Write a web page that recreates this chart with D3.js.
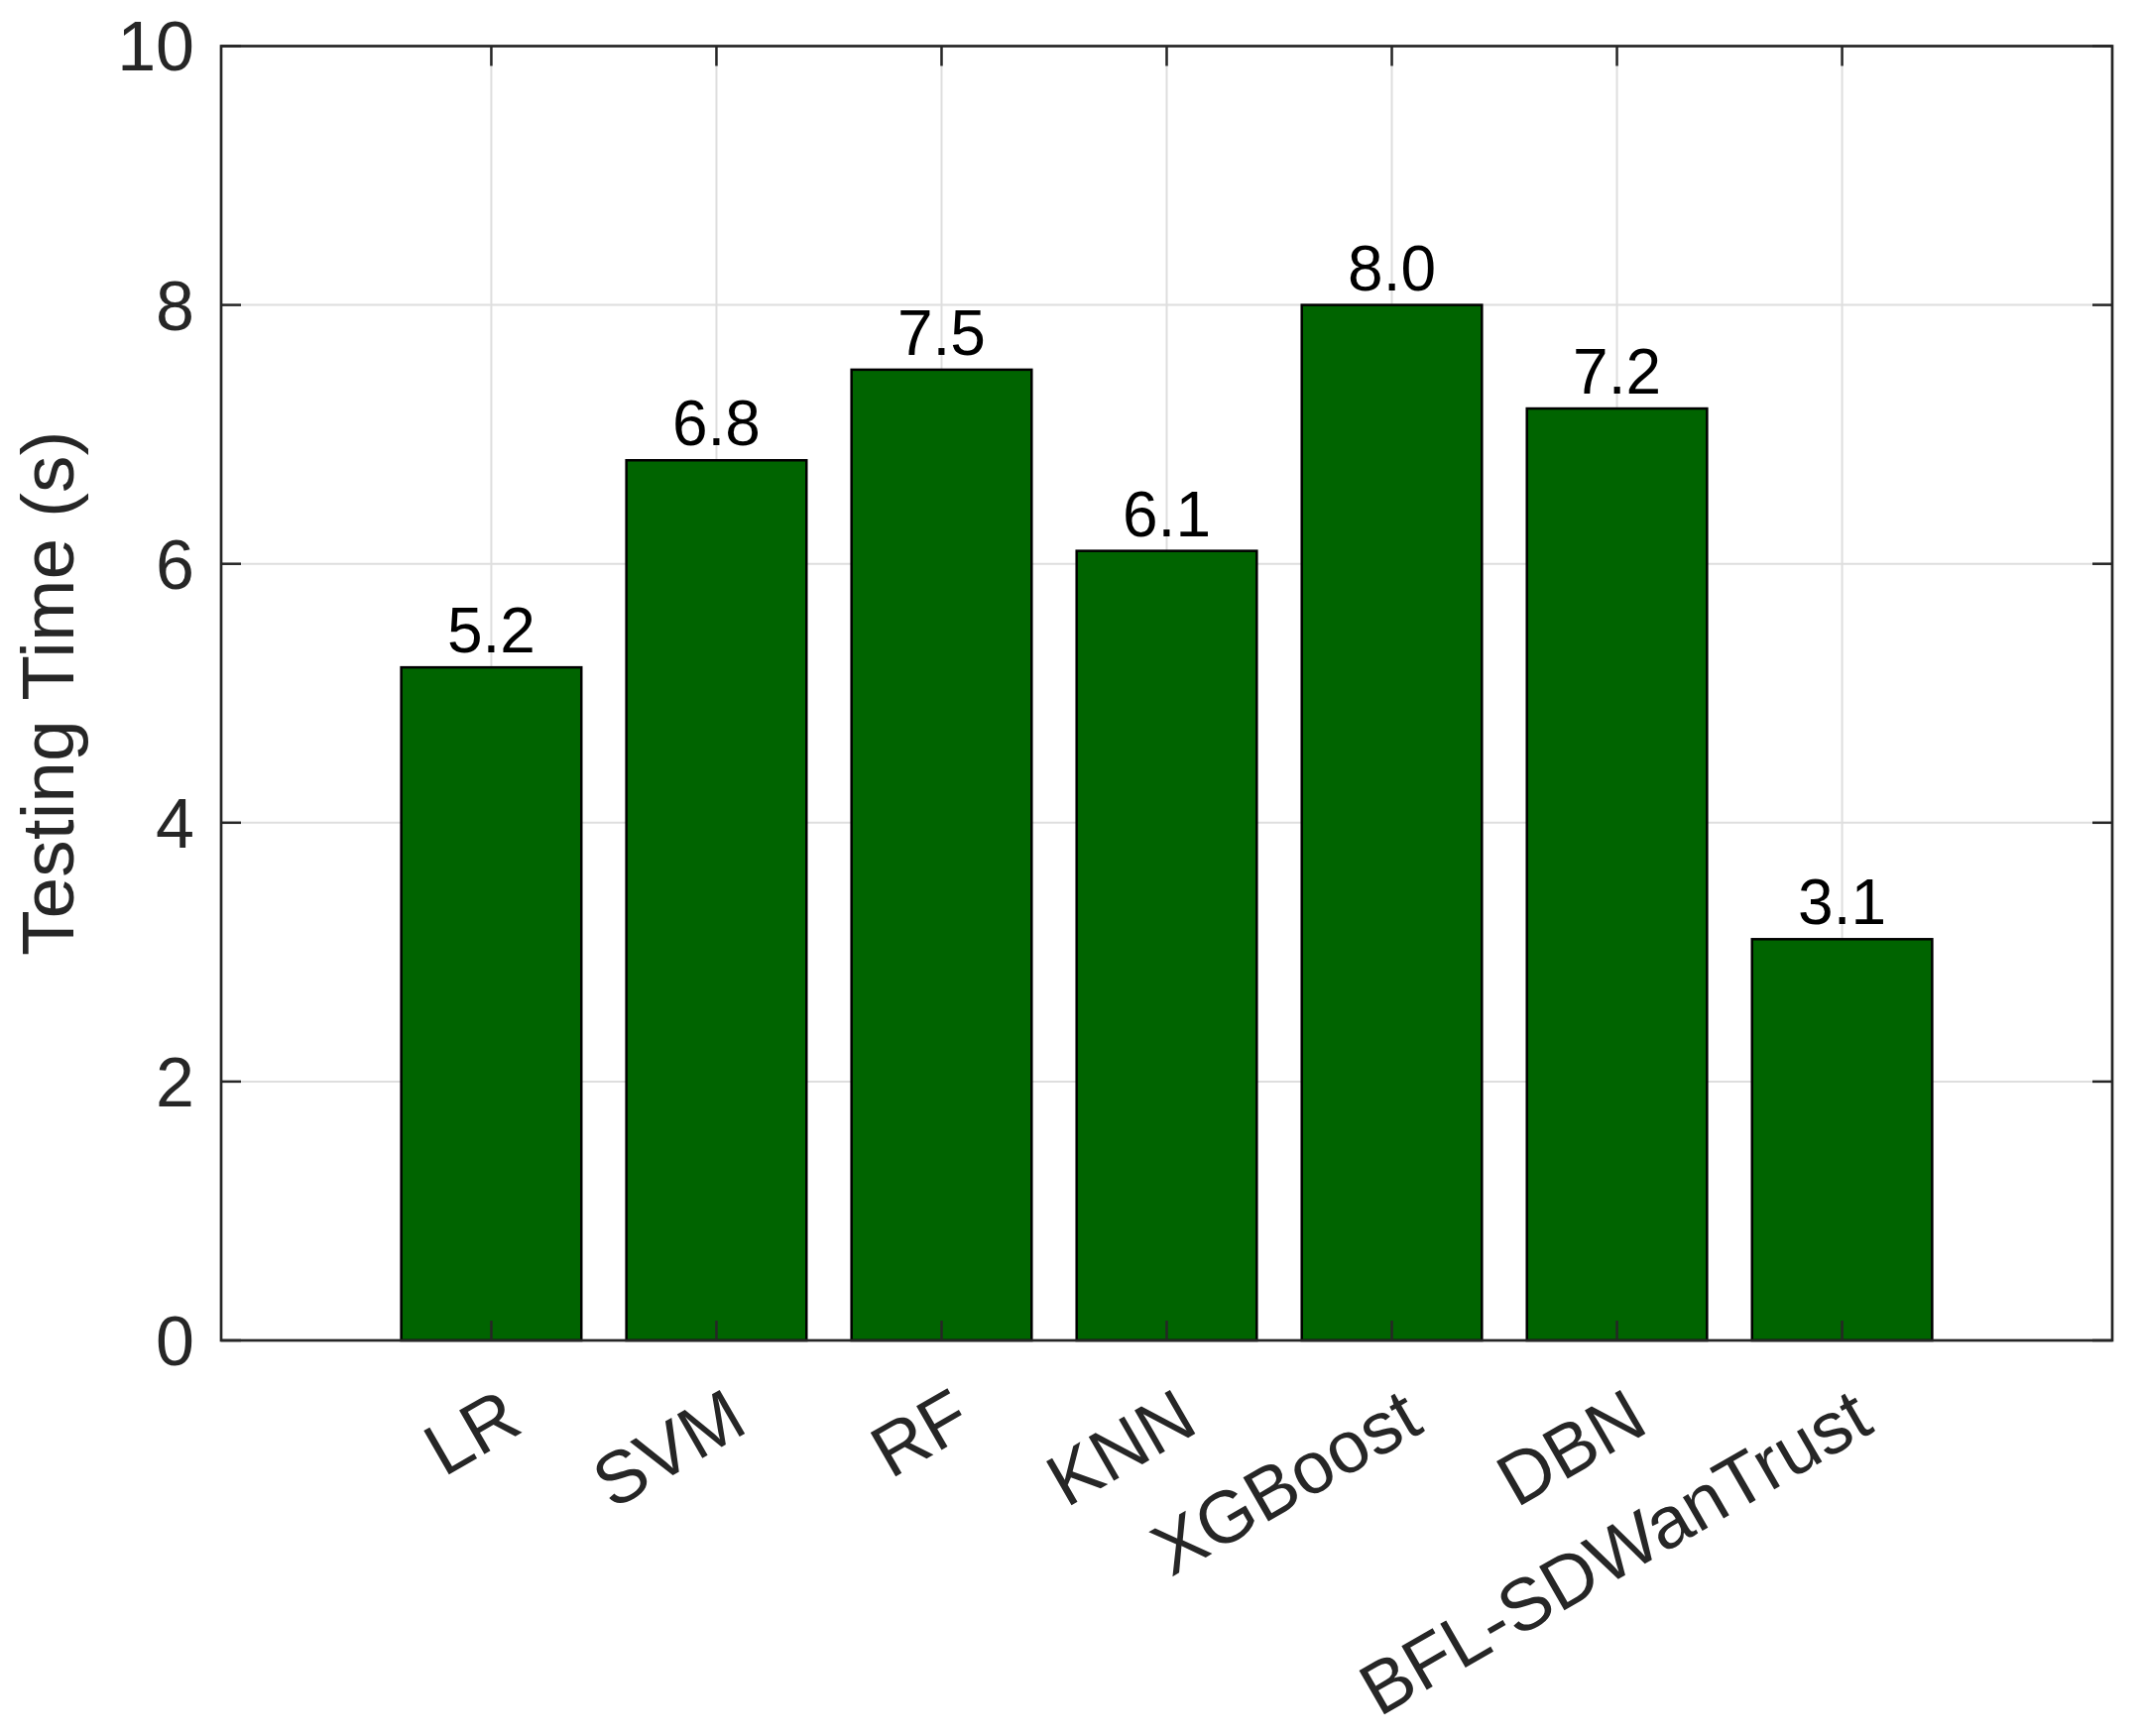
<!DOCTYPE html>
<html>
<head>
<meta charset="utf-8">
<script src="https://cdn.jsdelivr.net/npm/d3@7"></script>
<style>
  html, body { margin: 0; padding: 0; background: #ffffff; }
  svg { display: block; }
  text { font-family: "Liberation Sans", Arial, Helvetica, sans-serif; }
</style>
</head>
<body>
<script>
const categories = ["LR", "SVM", "RF", "KNN", "XGBoost", "DBN", "BFL-SDWanTrust"];
const values = [5.2, 6.8, 7.5, 6.1, 8.0, 7.2, 3.1];
const valueLabels = ["5.2", "6.8", "7.5", "6.1", "8.0", "7.2", "3.1"];
const yTicks = [0, 2, 4, 6, 8, 10];
const yLabel = "Testing Time (s)";

const W = 2161, H = 1751;
const plot = { left: 223, right: 2130, top: 46.5, bottom: 1352 };

const svg = d3.select("body").append("svg")
  .attr("width", W).attr("height", H);

const x = d3.scaleBand()
  .domain(categories)
  .range([plot.left, plot.right])
  .paddingInner(0.2)
  .paddingOuter(0.8);

const y = d3.scaleLinear()
  .domain([0, 10])
  .range([plot.bottom, plot.top]);

const axisColor = "#262626";
const gridColor = "#dedede";
const tickLen = 20;

// grid
const grid = svg.append("g");
grid.selectAll("line.h").data(yTicks).join("line")
  .attr("x1", plot.left).attr("x2", plot.right)
  .attr("y1", d => y(d)).attr("y2", d => y(d))
  .attr("stroke", gridColor).attr("stroke-width", 2);
grid.selectAll("line.v").data(categories).join("line")
  .attr("x1", d => x(d) + x.bandwidth() / 2).attr("x2", d => x(d) + x.bandwidth() / 2)
  .attr("y1", plot.top).attr("y2", plot.bottom)
  .attr("stroke", gridColor).attr("stroke-width", 2);

// bars
svg.append("g").selectAll("rect").data(categories).join("rect")
  .attr("x", d => x(d))
  .attr("width", x.bandwidth())
  .attr("y", (d, i) => y(values[i]))
  .attr("height", (d, i) => y(0) - y(values[i]))
  .attr("fill", "#006400")
  .attr("stroke", "#000000")
  .attr("stroke-width", 2.5);

// ticks (inside, mirrored)
const ticks = svg.append("g").attr("stroke", axisColor).attr("stroke-width", 2.5);
yTicks.forEach(t => {
  ticks.append("line").attr("x1", plot.left).attr("x2", plot.left + tickLen)
    .attr("y1", y(t)).attr("y2", y(t));
  ticks.append("line").attr("x1", plot.right).attr("x2", plot.right - tickLen)
    .attr("y1", y(t)).attr("y2", y(t));
});
categories.forEach(c => {
  const cx = x(c) + x.bandwidth() / 2;
  ticks.append("line").attr("x1", cx).attr("x2", cx)
    .attr("y1", plot.bottom).attr("y2", plot.bottom - tickLen);
  ticks.append("line").attr("x1", cx).attr("x2", cx)
    .attr("y1", plot.top).attr("y2", plot.top + tickLen);
});

// box
svg.append("rect")
  .attr("x", plot.left).attr("y", plot.top)
  .attr("width", plot.right - plot.left).attr("height", plot.bottom - plot.top)
  .attr("fill", "none").attr("stroke", axisColor).attr("stroke-width", 2.7);

// y tick labels
svg.append("g").selectAll("text").data(yTicks).join("text")
  .attr("x", plot.left - 27)
  .attr("y", d => y(d))
  .attr("dy", "0.357em")
  .attr("text-anchor", "end")
  .attr("font-size", 70)
  .attr("fill", axisColor)
  .text(d => d);

// x tick labels (rotated)
svg.append("g").selectAll("text").data(categories).join("text")
  .attr("transform", d => `translate(${x(d) + x.bandwidth() / 2 + 34},${plot.bottom + 91}) rotate(-30)`)
  .attr("text-anchor", "end")
  .attr("font-size", 74)
  .attr("fill", axisColor)
  .text(d => d);

// value labels
svg.append("g").selectAll("text").data(categories).join("text")
  .attr("x", d => x(d) + x.bandwidth() / 2)
  .attr("y", (d, i) => y(values[i]) - 15)
  .attr("text-anchor", "middle")
  .attr("font-size", 64)
  .attr("fill", "#000000")
  .text((d, i) => valueLabels[i]);

// y axis label
svg.append("text")
  .attr("transform", `translate(74,${(plot.top + plot.bottom) / 2}) rotate(-90)`)
  .attr("text-anchor", "middle")
  .attr("font-size", 75)
  .attr("fill", axisColor)
  .text(yLabel);
</script>
</body>
</html>
